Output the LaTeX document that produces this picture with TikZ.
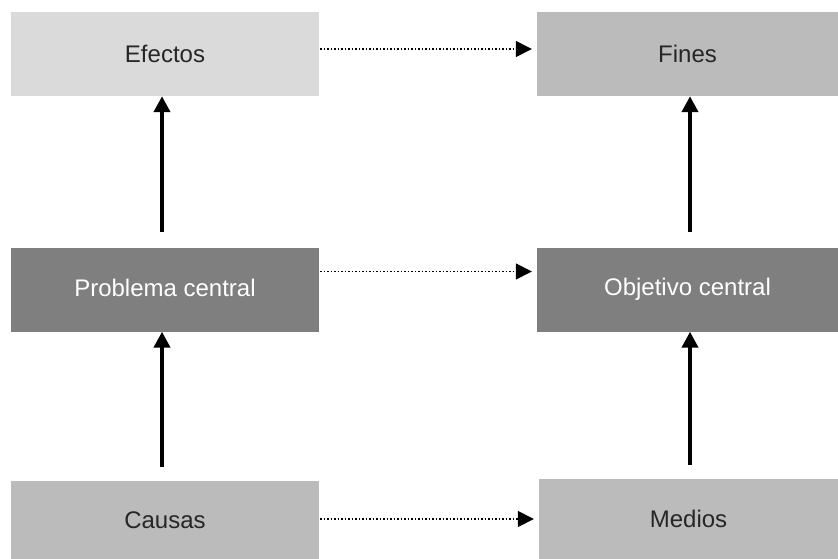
\documentclass[tikz,border=0pt]{standalone}
\usepackage{fontspec}
\setmainfont{Liberation Sans}
\usetikzlibrary{arrows.meta}
\tikzset{>=latex}
\definecolor{boxlight}{HTML}{DADADA}
\definecolor{boxmid}{HTML}{BBBBBB}
\definecolor{boxdark}{HTML}{7F7F7F}
\definecolor{textdark}{HTML}{262626}
\tikzset{
    box/.style = {minimum width = 308pt, minimum height = 84pt, inner sep = 0pt, text = textdark, font = \fontsize{24}{29}\selectfont},
    upflow/.style = {line width = 4pt, -{Triangle[length = 16pt, width = 16pt]}},
    sideflow/.style = {line width = 1.5pt, dotted, -{Triangle[length = 16pt, width = 16pt]}, shorten > = 5pt, shorten < = 1pt}
}

\begin{document}
\begin{tikzpicture}[x = 1pt, y = -1pt]
            \useasboundingbox (0, 0) rectangle (838, 559);
            \node[box, fill=boxlight] (efectos) at (165, 54) {Efectos};
            \node[box, fill=boxmid, minimum width = 301pt] (fines) at (687.5, 54) {Fines};
            \node[box, fill=boxdark, text=white] (problema) at (165, 289.5) {\raisebox{3pt}{Problema central}};
            \node[box, fill=boxdark, text=white, minimum width = 301pt] (objetivo) at (687.5, 289.5) {\raisebox{3pt}{Objetivo central}};
            \node[box, fill=boxmid, minimum height = 78pt] (causas) at (165, 520) {Causas};
            \node[box, fill=boxmid, minimum width = 299pt, minimum height = 80pt] (medios) at (688.5, 519) {Medios};
            \draw[upflow, shorten <= 14pt] ([xshift=-3pt]causas.north) -- ([xshift=-3pt]problema.south);
            \draw[upflow, shorten <= 15pt] ([xshift=-3pt]problema.north) -- ([xshift=-3pt]efectos.south);
            \draw[upflow, shorten <= 14pt] ([xshift=1.5pt]medios.north) -- ([xshift=2.5pt]objetivo.south);
            \draw[upflow, shorten <= 15pt] ([xshift=2.5pt]objetivo.north) -- ([xshift=2.5pt]fines.south);
            \draw[sideflow] ([yshift=5pt]efectos.east) -- ([yshift=5pt]fines.west);
            \draw[sideflow] ([yshift=18pt]problema.east) -- ([yshift=18pt]objetivo.west);
            \draw[sideflow] ([yshift=1pt]causas.east) -- ([yshift=1pt]causas.east -| medios.west);
        \end{tikzpicture}
\end{document}
